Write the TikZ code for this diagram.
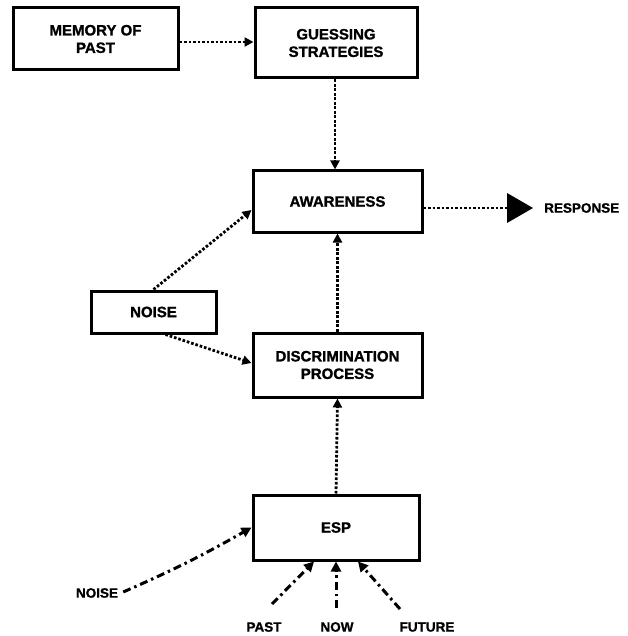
\documentclass[tikz,border=0pt]{standalone}
\usepackage{fontspec}
\setmainfont{Liberation Sans}[BoldFeatures={FakeBold=1.2}]
\usetikzlibrary{arrows.meta,calc}
\tikzset{
  box/.style={draw, line width=3pt, align=center, inner sep=0pt,
    font=\fontsize{15}{17.5}\selectfont\bfseries},
  lbl/.style={inner sep=0pt, font=\fontsize{13.5}{15}\selectfont\bfseries},
  dots/.style={line width=2.8pt, dash pattern=on 2.6pt off 1.9pt,
    -{Triangle[length=9pt,width=9pt]}},
  dashdot/.style={line width=3pt, dash pattern=on 8pt off 4pt on 2.5pt off 4pt,
    -{Triangle[length=10pt,width=10pt]}},
}
\begin{document}
\begin{tikzpicture}[x=1pt,y=-1pt]
\useasboundingbox (0,0) rectangle (627,636);
\node[box, minimum width=165pt, minimum height=62pt] (mem) at (95.5,39) {MEMORY OF\\PAST};
\node[box, minimum width=162pt, minimum height=70pt] (gs) at (336,43) {GUESSING\\STRATEGIES};
\node[box, minimum width=169pt, minimum height=61pt] (aw) at (337.5,201.5) {AWARENESS};
\node[box, minimum width=125pt, minimum height=42pt] (noise) at (153.5,312) {NOISE};
\node[box, minimum width=169pt, minimum height=64pt] (dp) at (337.5,365) {DISCRIMINATION\\PROCESS};
\node[box, minimum width=166pt, minimum height=65pt] (esp) at (336,527.5) {ESP};
\node[lbl, anchor=west] (resp) at (544,208) {RESPONSE};
\node[lbl] (noise2) at (97,593) {NOISE};
\node[lbl] (past) at (264,627) {PAST};
\node[lbl] (now) at (337,627) {NOW};
\node[lbl] (future) at (427,627) {FUTURE};
\coordinate (pastS) at (272,604);
\coordinate (nowS) at (336,608);
\coordinate (futS) at (400,609);
% dotted connectors
\draw[dots] (mem.east |- 0,42) -- (gs.west |- 0,42);
\draw[dots] (gs.south -| 335,0) -- (aw.north -| 335,0);
\draw[dots] (dp.north) -- (aw.south);
\draw[dots] (esp.north) -- (dp.south);
\draw[dots] (noise.north) -- ($(aw.west)+(0,8.5)$);
\draw[dots] ($(noise.south)+(12,0)$) -- ($(dp.west)+(0,-2)$);
\draw[line width=2.8pt, dash pattern=on 2.6pt off 1.9pt]
  ($(aw.east)+(0,6.5)$) -- ($(resp.west)+(-36,0)$);
\fill ($(resp.west)+(-37,-15)$) -- ($(resp.west)+(-11,0)$) -- ($(resp.west)+(-37,15)$) -- cycle;
% dash-dot connectors
\draw[dashdot] ($(noise2.east)+(5,-1)$) to[bend right=3] ($(esp.west)+(0,0)$);
\draw[dashdot] (pastS) -- (esp.south -| 314,0);
\draw[dashdot] (nowS) -- (esp.south);
\draw[dashdot] (futS) -- (esp.south -| 358,0);
\end{tikzpicture}
\end{document}
